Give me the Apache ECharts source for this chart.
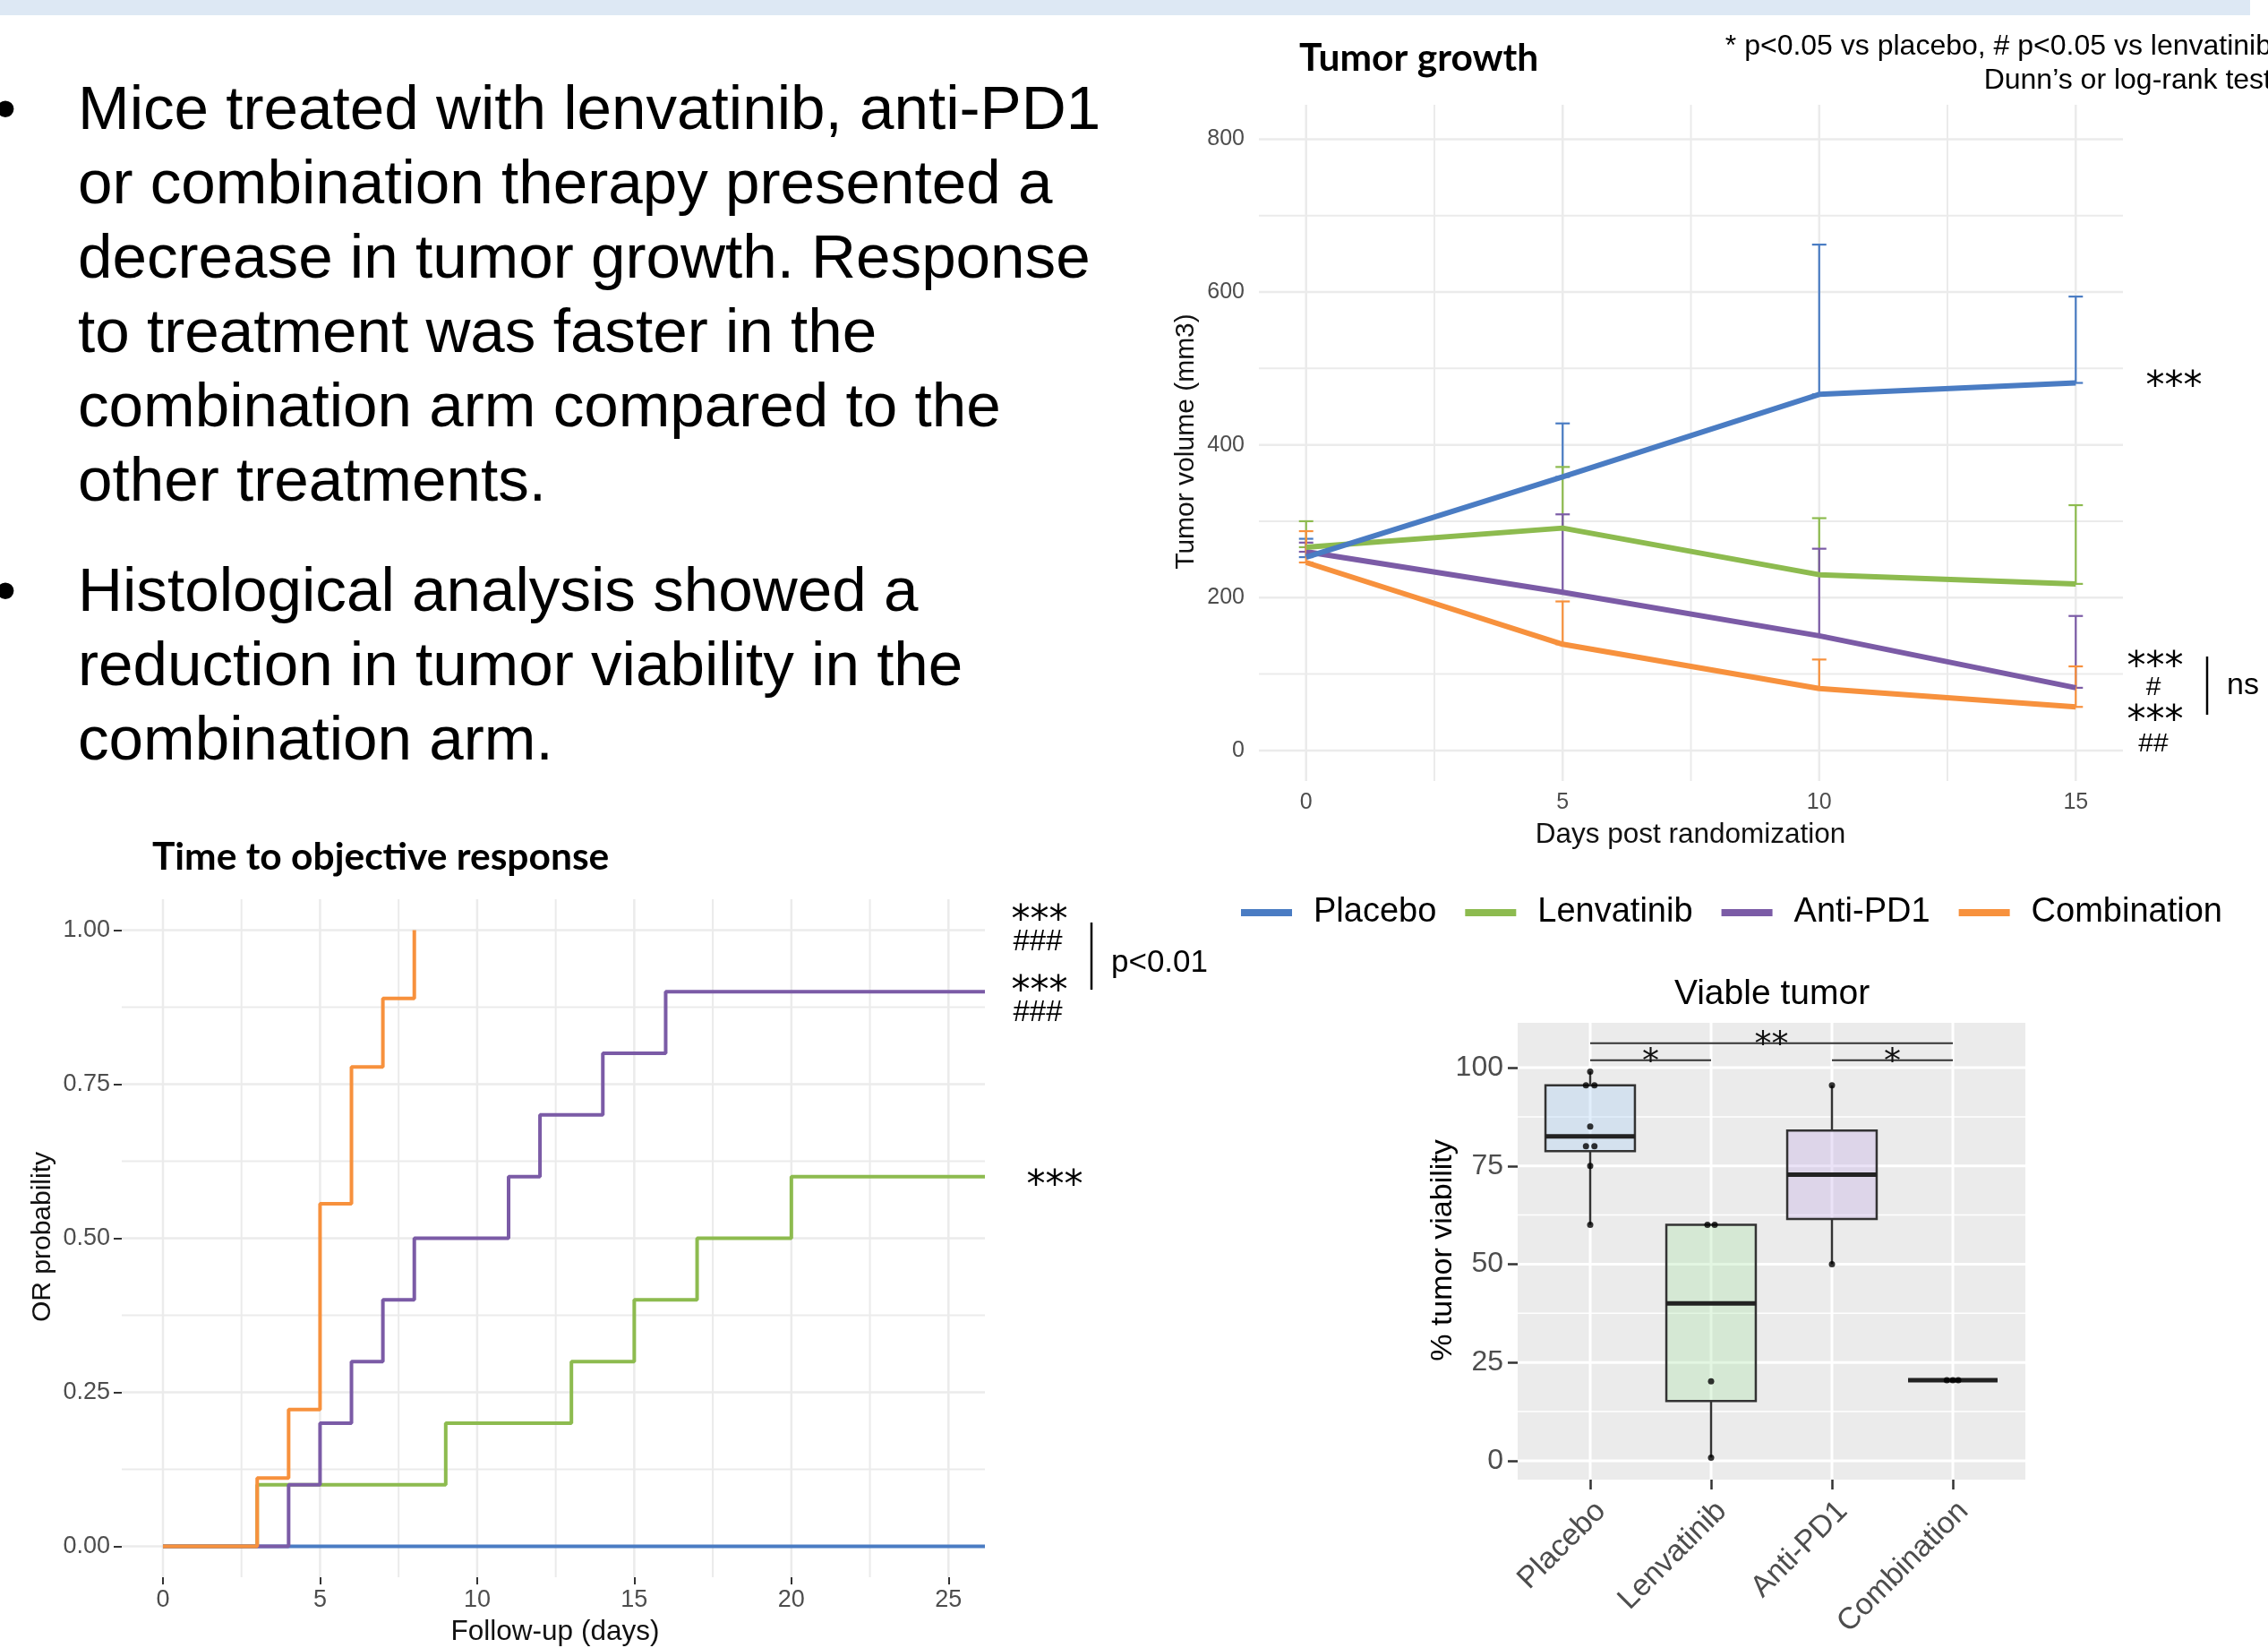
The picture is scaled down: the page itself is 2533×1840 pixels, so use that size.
<!DOCTYPE html>
<html><head><meta charset="utf-8">
<script src="https://cdn.jsdelivr.net/npm/echarts@6/dist/echarts.min.js"></script>
<style>html,body{margin:0;padding:0;background:#fff}#c{width:2533px;height:1840px}</style>
</head><body><div id="c"></div>
<script>
// ---------- shared ----------
const groups = ['Placebo', 'Lenvatinib', 'Anti-PD1', 'Combination'];
const groupColors = ['#4a7cc3', '#8dbb4f', '#7b5ba6', '#f7913d'];

// ---------- Tumor growth (mean and mean+SD) ----------
const tgDays = [0, 5, 10, 15];
const tgPlacebo = [253, 358, 466, 481];
const tgPlaceboUpper = [277, 428, 662, 594];
const tgLenvatinib = [266, 291, 230, 218];
const tgLenvatinibUpper = [300, 371, 304, 321];
const tgAntiPD1 = [260, 207, 150, 82];
const tgAntiPD1Upper = [272, 309, 264, 176];
const tgCombination = [246, 139, 81, 57];
const tgCombinationUpper = [287, 195, 119, 110];
const tgXTicks = [0, 5, 10, 15];
const tgYTicks = [0, 200, 400, 600, 800];
const tgXMinor = [2.5, 7.5, 12.5];
const tgYMinor = [100, 300, 500, 700];

// ---------- Time to objective response (step data: [day, probability]) ----------
const orPlacebo = [[0, 0], [26.16, 0]];
const orLenvatinib = [[0, 0], [3, 0.1], [9, 0.2], [13, 0.3], [15, 0.4], [17, 0.5], [20, 0.6], [26.16, 0.6]];
const orAntiPD1 = [[0, 0], [4, 0.1], [5, 0.2], [6, 0.3], [7, 0.4], [8, 0.5], [11, 0.6], [12, 0.7], [14, 0.8], [16, 0.9], [26.16, 0.9]];
const orCombination = [[0, 0], [3, 0.111], [4, 0.222], [5, 0.556], [6, 0.778], [7, 0.889], [8, 1.0]];
const orXTicks = [0, 5, 10, 15, 20, 25];
const orYTicks = [0, 0.25, 0.5, 0.75, 1];
const orXMinor = [2.5, 7.5, 12.5, 17.5, 22.5];
const orYMinor = [0.125, 0.375, 0.625, 0.875];

// ---------- Viable tumor ----------
const vtCategories = groups;
const vtMin = [60, 0.8, 50, 20.5];
const vtQ1 = [78.75, 15.2, 61.5, 20.5];
const vtMedian = [82.5, 40, 72.8, 20.5];
const vtQ3 = [95.5, 60, 84, 20.5];
const vtMax = [99, 60, 95.5, 20.5];
const vtPointX = [0, -0.035, 0.035, 0, -0.035, 0.035, 0, 0, 0.97, 1.03, 1, 1, 2, 2, 2.95, 3, 3.045];
const vtPointY = [99, 95.5, 95.5, 85, 80, 80, 75, 60, 60, 60, 20.2, 0.8, 95.5, 50, 20.5, 20.5, 20.5];
const vtSigFrom = [0, 0, 2];
const vtSigTo = [1, 3, 3];
const vtSigY = [101.9, 106.2, 101.9];
const vtSigLabels = ['*', '**', '*'];
const vtYTicks = [0, 25, 50, 75, 100];
const vtYMinor = [12.5, 37.5, 62.5, 87.5];
const vtFill = ['rgba(158,202,245,0.3)', 'rgba(162,225,158,0.3)', 'rgba(188,162,228,0.3)', 'rgba(247,145,61,0.3)'];

// ---------- helpers ----------
const FONT = 'Liberation Sans';
function gridRows(xMajor, xMinor, yMajor, yMinor) {
  const rows = [];
  xMinor.forEach(v => rows.push([0, v, 1]));
  yMinor.forEach(v => rows.push([1, v, 1]));
  xMajor.forEach(v => rows.push([0, v, 0]));
  yMajor.forEach(v => rows.push([1, v, 0]));
  return rows;
}
function gridRender(color, wMajor, wMinor) {
  return function (params, api) {
    const cs = params.coordSys;
    const o = api.value(0), v = api.value(1), k = api.value(2);
    const style = { stroke: color, lineWidth: k ? wMinor : wMajor };
    if (o === 0) {
      const x = api.coord([v, 0])[0];
      return { type: 'line', shape: { x1: x, y1: cs.y, x2: x, y2: cs.y + cs.height }, style };
    }
    const y = api.coord([0, v])[1];
    return { type: 'line', shape: { x1: cs.x, y1: y, x2: cs.x + cs.width, y2: y }, style };
  };
}
function errRender(color) {
  return function (params, api) {
    const x = api.value(0), m = api.value(1), u = api.value(2);
    const a = api.coord([x, m]), b = api.coord([x, u]);
    const hw = 8, st = { stroke: color, lineWidth: 2.2 };
    return { type: 'group', children: [
      { type: 'line', shape: { x1: a[0], y1: a[1], x2: b[0], y2: b[1] }, style: st },
      { type: 'line', shape: { x1: b[0] - hw, y1: b[1], x2: b[0] + hw, y2: b[1] }, style: st },
      { type: 'line', shape: { x1: a[0] - hw, y1: a[1], x2: a[0] + hw, y2: a[1] }, style: st }
    ] };
  };
}
function boxRender(params, api) {
  const i = api.value(0), mn = api.value(1), q1 = api.value(2), md = api.value(3), q3 = api.value(4), mx = api.value(5);
  const hw = 0.37, stroke = '#333333';
  const tl = api.coord([i - hw, q3]), br = api.coord([i + hw, q1]);
  const top = api.coord([i, mx]), bot = api.coord([i, mn]);
  const m1 = api.coord([i - hw, md]), m2 = api.coord([i + hw, md]);
  return { type: 'group', children: [
    { type: 'line', shape: { x1: top[0], y1: top[1], x2: top[0], y2: tl[1] }, style: { stroke, lineWidth: 2.5 } },
    { type: 'line', shape: { x1: bot[0], y1: br[1], x2: bot[0], y2: bot[1] }, style: { stroke, lineWidth: 2.5 } },
    { type: 'rect', shape: { x: tl[0], y: tl[1], width: br[0] - tl[0], height: br[1] - tl[1] },
      style: { fill: vtFill[params.dataIndex], stroke, lineWidth: 2.5 } },
    { type: 'line', shape: { x1: m1[0], y1: m1[1], x2: m2[0], y2: m2[1] }, style: { stroke: '#222', lineWidth: 5 } }
  ] };
}
function sigRender(params, api) {
  const x1 = api.value(0), x2 = api.value(1), y = api.value(2);
  const a = api.coord([x1, y]), b = api.coord([x2, y]);
  return { type: 'group', children: [
    { type: 'line', shape: { x1: a[0], y1: a[1], x2: b[0], y2: b[1] }, style: { stroke: '#333', lineWidth: 2 } },
    { type: 'text', x: (a[0] + b[0]) / 2, y: a[1] + 3,
      style: { text: vtSigLabels[params.dataIndex], fontSize: 38, fontFamily: 'DejaVu Sans', fill: '#111', align: 'center', verticalAlign: 'middle' } }
  ] };
}
const zip = (xs, ys) => xs.map((x, i) => [x, ys[i]]);

// ---------- text blocks ----------
const bulletLines = [
  'Mice treated with lenvatinib, anti-PD1',
  'or combination therapy presented a',
  'decrease in tumor growth. Response',
  'to treatment was faster in the',
  'combination arm compared to the',
  'other treatments.',
  'Histological analysis showed a',
  'reduction in tumor viability in the',
  'combination arm.'
];
const bulletLineY = [125, 208, 291, 374, 457, 540, 663, 746, 829];
const bulletStartY = [125, 663];

function txt(x, y, text, size, opts) {
  opts = opts || {};
  return { type: 'text', x, y, rotation: opts.rotation || 0, silent: true, z: 10,
    style: { text, fontSize: size, fontFamily: opts.family || FONT, fontWeight: opts.weight || 'normal',
      fill: opts.color || '#000', align: opts.align || 'left', verticalAlign: 'middle' } };
}
function vline(x, y1, y2) {
  return { type: 'line', silent: true, z: 10, shape: { x1: x, y1, x2: x, y2 }, style: { stroke: '#000', lineWidth: 2.5 } };
}

const graphics = [
  { type: 'rect', silent: true, shape: { x: 0, y: 0, width: 2513, height: 17 }, style: { fill: '#dde8f4' } }
];
bulletLines.forEach((t, i) => graphics.push(txt(87, bulletLineY[i], t, 69.2)));
bulletStartY.forEach(y => graphics.push(txt(-6, y, '•', 69)));
graphics.push(
  txt(1451, 65, 'Tumor growth', 42.5, { family: 'Lato', weight: 'bold' }),
  txt(2537, 52, '* p<0.05 vs placebo, # p<0.05 vs lenvatinib', 32, { align: 'right' }),
  txt(2537, 90, 'Dunn\u2019s or log-rank test', 32, { align: 'right' }),
  txt(1325, 493, 'Tumor volume (mm3)', 30, { align: 'center', rotation: Math.PI / 2, color: '#111' }),
  txt(1888, 932, 'Days post randomization', 31.5, { align: 'center', color: '#111' }),
  txt(2428, 433, '***', 42, { align: 'center', family: 'DejaVu Sans' }),
  txt(2407, 746, '***', 42, { align: 'center', family: 'DejaVu Sans' }),
  txt(2405, 768, '#', 30, { align: 'center' }),
  txt(2407, 806, '***', 42, { align: 'center', family: 'DejaVu Sans' }),
  txt(2405, 831, '##', 30, { align: 'center' }),
  vline(2465, 733, 798),
  txt(2487, 766, 'ns', 34),
  txt(170, 957, 'Time to objective response', 42.5, { family: 'Lato', weight: 'bold' }),
  txt(48, 1381, 'OR probability', 30, { align: 'center', rotation: Math.PI / 2, color: '#111' }),
  txt(620, 1822, 'Follow-up (days)', 31.5, { align: 'center', color: '#111' }),
  txt(1161, 1029, '***', 42, { align: 'center', family: 'DejaVu Sans' }),
  txt(1159, 1052, '###', 33, { align: 'center' }),
  txt(1161, 1108, '***', 42, { align: 'center', family: 'DejaVu Sans' }),
  txt(1159, 1131, '###', 33, { align: 'center' }),
  vline(1219, 1030, 1105),
  txt(1241, 1075, 'p<0.01', 35),
  txt(1178, 1325, '***', 42, { align: 'center', family: 'DejaVu Sans' }),
  txt(1979, 1110, 'Viable tumor', 39, { align: 'center' }),
  txt(1612, 1396, '% tumor viability', 34, { align: 'center', rotation: Math.PI / 2 })
);

// ---------- axes ----------
const lblStyle = { fontFamily: FONT, color: '#4d4d4d' };
const noLine = { show: false, onZero: false };
const option = {
  animation: false,
  backgroundColor: '#ffffff',
  legend: {
    left: 1386, top: 1000, padding: 0, itemWidth: 57, itemHeight: 8, itemGap: 32,
    icon: 'rect', selectedMode: false, data: groups,
    textStyle: { fontSize: 38, fontFamily: FONT, color: '#000', padding: [0, 0, 0, 19] }
  },
  grid: [
    { left: 1406, top: 117, width: 965, height: 755, containLabel: false },
    { left: 136, top: 1004, width: 964, height: 757, containLabel: false },
    { left: 1695, top: 1142, width: 567, height: 510, containLabel: false, show: true, backgroundColor: '#ebebeb', borderWidth: 0 }
  ],
  xAxis: [
    { type: 'value', gridIndex: 0, min: -0.92, max: 15.92, axisLine: noLine, axisTick: { show: false, customValues: tgXTicks },
      splitLine: { show: false }, axisLabel: Object.assign({ customValues: tgXTicks, fontSize: 25, margin: 12 }, lblStyle) },
    { type: 'value', gridIndex: 1, min: -1.31, max: 26.16, axisLine: noLine,
      axisTick: { show: true, customValues: orXTicks, length: 8, lineStyle: { color: '#333', width: 2 } },
      splitLine: { show: false }, axisLabel: Object.assign({ customValues: orXTicks, fontSize: 27, margin: 12 }, lblStyle) },
    { type: 'value', gridIndex: 2, min: -0.6, max: 3.6, axisLine: noLine,
      axisTick: { show: true, customValues: [0, 1, 2, 3], length: 11, lineStyle: { color: '#333', width: 2.5 } },
      splitLine: { show: false },
      axisLabel: Object.assign({ customValues: [0, 1, 2, 3], fontSize: 34, margin: 18, rotate: 45,
        verticalAlign: 'top', align: 'right',
        formatter: v => vtCategories[Math.round(v)] }, lblStyle) }
  ],
  yAxis: [
    { type: 'value', gridIndex: 0, min: -40, max: 845, axisLine: noLine, axisTick: { show: false, customValues: tgYTicks },
      splitLine: { show: false }, axisLabel: Object.assign({ customValues: tgYTicks, fontSize: 25, margin: 16 }, lblStyle) },
    { type: 'value', gridIndex: 1, min: -0.05, max: 1.05, axisLine: noLine,
      axisTick: { show: true, customValues: orYTicks, length: 9, lineStyle: { color: '#333', width: 2 } },
      splitLine: { show: false }, axisLabel: Object.assign({ customValues: orYTicks, fontSize: 27, margin: 13, formatter: v => v.toFixed(2) }, lblStyle) },
    { type: 'value', gridIndex: 2, min: -4.8, max: 111.4, axisLine: noLine,
      axisTick: { show: true, customValues: vtYTicks, length: 11, lineStyle: { color: '#333', width: 2.5 } },
      splitLine: { show: false }, axisLabel: Object.assign({ customValues: vtYTicks, fontSize: 32, margin: 16 }, lblStyle) }
  ],
  graphic: graphics,
  series: []
};

const tgMeans = [tgPlacebo, tgLenvatinib, tgAntiPD1, tgCombination];
const tgUppers = [tgPlaceboUpper, tgLenvatinibUpper, tgAntiPD1Upper, tgCombinationUpper];
const orData = [orPlacebo, orLenvatinib, orAntiPD1, orCombination];

// tumor growth lines (first, so legend takes their colours)
const tgDrawOrder = [3, 2, 1, 0];
groups.forEach((g, gi) => {
  option.series.push({
    type: 'line', name: g, xAxisIndex: 0, yAxisIndex: 0, z: 4 + tgDrawOrder[gi] * 0.01,
    data: zip(tgDays, tgMeans[gi]), showSymbol: false, symbol: 'none',
    lineStyle: { width: 6, color: groupColors[gi] }, itemStyle: { color: groupColors[gi] }
  });
});
// grid lines
option.series.push(
  { type: 'custom', name: 'tg-grid', xAxisIndex: 0, yAxisIndex: 0, z: 1, silent: true,
    renderItem: gridRender('#ebebeb', 2.5, 2), data: gridRows(tgXTicks, tgXMinor, tgYTicks, tgYMinor) },
  { type: 'custom', name: 'or-grid', xAxisIndex: 1, yAxisIndex: 1, z: 1, silent: true,
    renderItem: gridRender('#ebebeb', 2.5, 2), data: gridRows(orXTicks, orXMinor, orYTicks, orYMinor) },
  { type: 'custom', name: 'vt-grid', xAxisIndex: 2, yAxisIndex: 2, z: 1, silent: true,
    renderItem: gridRender('#ffffff', 3, 1.5), data: gridRows([0, 1, 2, 3], [], vtYTicks, vtYMinor) }
);
// error bars
groups.forEach((g, gi) => {
  option.series.push({
    type: 'custom', name: g + ' SD', xAxisIndex: 0, yAxisIndex: 0, z: 3, silent: true,
    renderItem: errRender(groupColors[gi]), encode: { x: 0, y: [1, 2] },
    data: tgDays.map((d, i) => [d, tgMeans[gi][i], tgUppers[gi][i]])
  });
});
// OR step curves
groups.forEach((g, gi) => {
  option.series.push({
    type: 'line', name: g, xAxisIndex: 1, yAxisIndex: 1, z: 3 + gi * 0.01, step: 'end',
    data: orData[gi], showSymbol: false, symbol: 'none',
    lineStyle: { width: 4, color: groupColors[gi] }, itemStyle: { color: groupColors[gi] }
  });
});
// viable tumor boxes, points, significance bars
option.series.push(
  { type: 'custom', name: 'boxes', xAxisIndex: 2, yAxisIndex: 2, z: 3, silent: true,
    renderItem: boxRender, encode: { x: 0, y: [1, 2, 3, 4, 5] },
    data: vtCategories.map((c, i) => [i, vtMin[i], vtQ1[i], vtMedian[i], vtQ3[i], vtMax[i]]) },
  { type: 'scatter', name: 'points', xAxisIndex: 2, yAxisIndex: 2, z: 4, silent: true,
    symbolSize: 7, itemStyle: { color: '#000' }, data: zip(vtPointX, vtPointY) },
  { type: 'custom', name: 'sig', xAxisIndex: 2, yAxisIndex: 2, z: 4, silent: true,
    renderItem: sigRender, encode: { x: [0, 1], y: 2 },
    data: vtSigFrom.map((f, i) => [f, vtSigTo[i], vtSigY[i]]) }
);

const chart = echarts.init(document.getElementById('c'), null, { renderer: 'canvas' });
chart.setOption(option);
</script>
</body></html>
